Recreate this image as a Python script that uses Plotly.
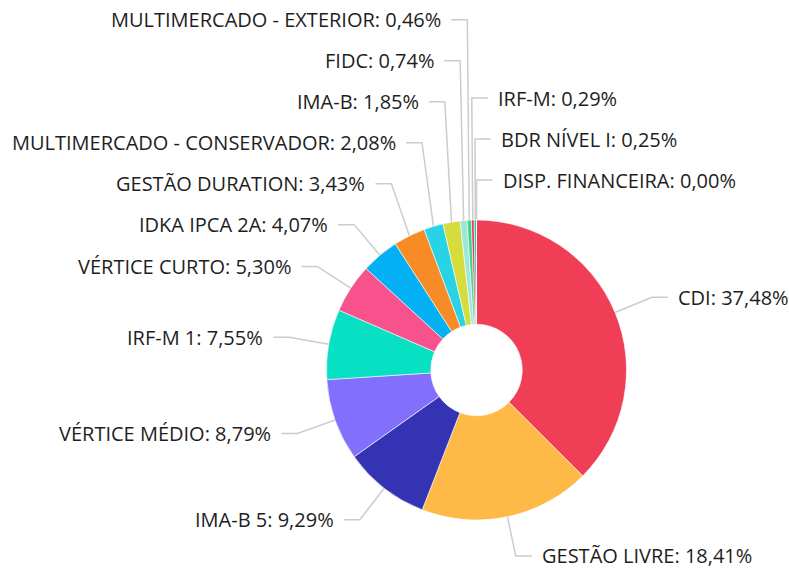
import math
import plotly.graph_objects as go

# ---- data ----
labels = ["CDI", "GESTÃO LIVRE", "IMA-B 5", "VÉRTICE MÉDIO", "IRF-M 1", "VÉRTICE CURTO",
          "IDKA IPCA 2A", "GESTÃO DURATION", "MULTIMERCADO - CONSERVADOR", "IMA-B", "FIDC",
          "MULTIMERCADO - EXTERIOR", "IRF-M", "BDR NÍVEL I", "DISP. FINANCEIRA"]
values = [37.48, 18.41, 9.29, 8.79, 7.55, 5.30, 4.07, 3.43, 2.08, 1.85, 0.74, 0.46, 0.29, 0.25, 0.00]
colors = ["#EF3E55", "#FFB946", "#3333B3", "#8270FC", "#08E0C4", "#F7528C", "#02B0F3",
          "#F78C26", "#29D3E6", "#D5DC3C", "#9DE7DA", "#3ED68C", "#E8334A", "#1FC9B5", "#5A5AC8"]

# ---- layout constants (pixels) ----
W, H = 789, 568
CX, CY, R = 476.5, 370.0, 150.0
HOLE = 0.305
LEN1, LEN2, GAP, SPACING = 40.0, 16.0, 8.0, 41.0
FONT = dict(family="Open Sans", size=20, color="#1e1e1e")

fig = go.Figure()
fig.add_trace(go.Pie(
    labels=labels, values=values, sort=False, direction="clockwise", rotation=0,
    hole=HOLE, textinfo="none", hoverinfo="label+percent", showlegend=False,
    marker=dict(colors=colors, line=dict(color="white", width=0.6)),
    domain=dict(x=[(CX - R) / W, (CX + R) / W], y=[(H - CY - R) / H, (H - CY + R) / H]),
))

# ---- label layout computed from the data ----
total = sum(values)
items = []
cum = 0.0
for i, (lab, v) in enumerate(zip(labels, values)):
    mid = (cum + v / 2) / total * 360.0
    cum += v
    a = math.radians(mid)
    sx, sy = math.sin(a), -math.cos(a)
    ang = mid - 360 if mid > 358 else mid
    items.append(dict(i=i, ang=ang, right=ang < 180,
                      x1=CX + R * sx, y1=CY + R * sy,
                      x2=CX + (R + LEN1) * sx, y2=CY + (R + LEN1) * sy))

right = sorted([it for it in items if it["right"]], key=lambda d: d["ang"])
left = sorted([it for it in items if not it["right"]], key=lambda d: -d["ang"])
for side in (left, right):
    for k in range(len(side) - 2, -1, -1):
        side[k]["y2"] = min(side[k]["y2"], side[k + 1]["y2"] - SPACING)

lx, ly = [], []
annotations = []
for it in items:
    d = 1 if it["right"] else -1
    x3 = it["x2"] + d * LEN2
    lx += [it["x1"], it["x2"], x3, None]
    ly += [it["y1"], it["y2"], it["y2"], None]
    pct = f"{values[it['i']]:.2f}".replace(".", ",")
    txt = f"{labels[it['i']]}: {pct}%"
    annotations.append(dict(x=x3 + d * GAP, y=it["y2"], xref="x", yref="y", text=txt,
                            showarrow=False, xanchor="left" if d > 0 else "right",
                            yanchor="middle", font=FONT))

fig.add_trace(go.Scatter(x=lx, y=ly, mode="lines", hoverinfo="skip", showlegend=False,
                         line=dict(color="#cccccc", width=1.5)))

fig.update_layout(
    width=W, height=H, margin=dict(l=0, r=0, t=0, b=0),
    paper_bgcolor="white", plot_bgcolor="rgba(0,0,0,0)",
    xaxis=dict(range=[0, W], visible=False, fixedrange=True),
    yaxis=dict(range=[H, 0], visible=False, fixedrange=True),
    annotations=annotations,
)
fig.write_html("out.html")
